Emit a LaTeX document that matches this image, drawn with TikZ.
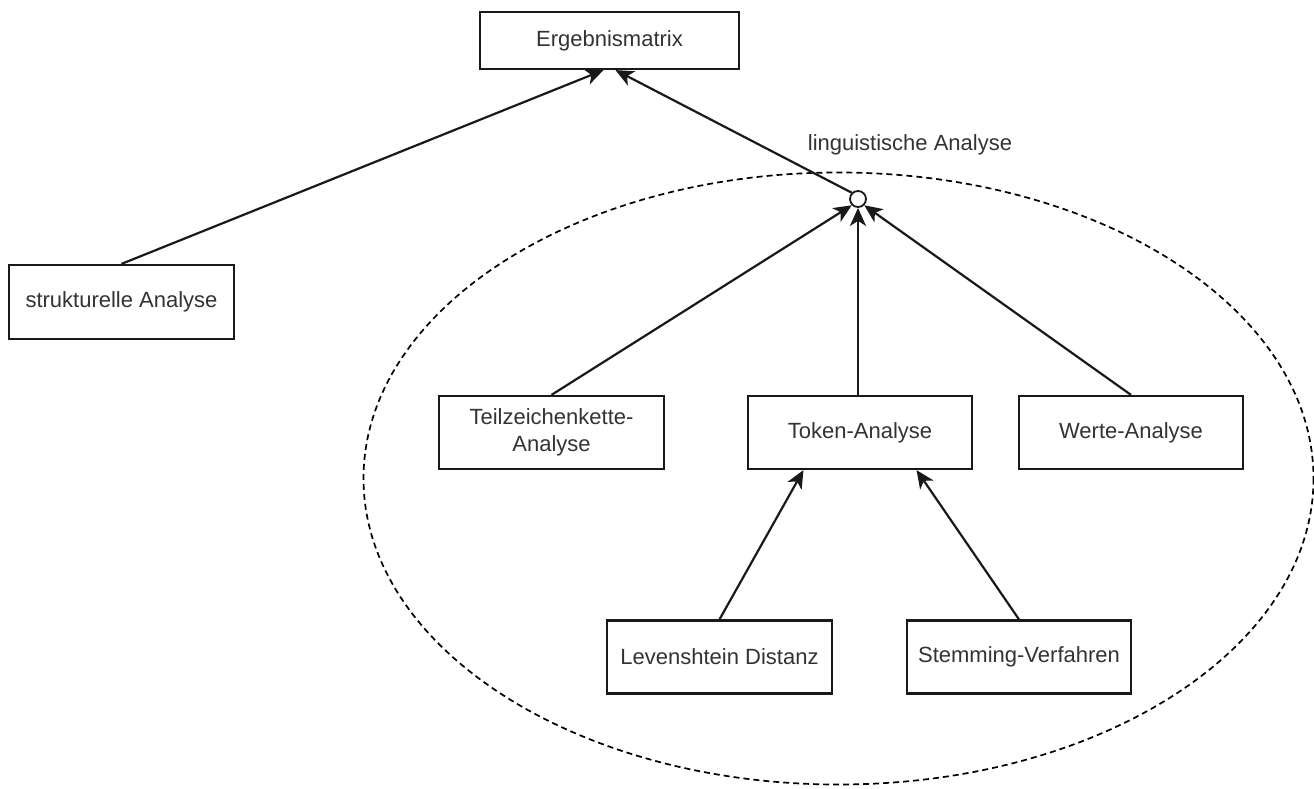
\documentclass[tikz,border=0pt]{standalone}
\usepackage{fontspec}
\setmainfont{Liberation Sans}
\usetikzlibrary{arrows.meta,calc}
\definecolor{txt}{HTML}{333333}
\begin{document}
\begin{tikzpicture}[x=1pt,y=-1pt,
  box/.style={draw=black!90,line width=2.2pt,fill=white,text=txt,font=\fontsize{22}{27}\selectfont,align=center,inner sep=0pt},
  conn/.style={line width=2.2pt,draw=black!90,-{Stealth[length=18pt,width=16pt,inset=5pt]}},
  lbl/.style={text=txt,font=\fontsize{22}{27}\selectfont,inner sep=0pt}]
\useasboundingbox (0,0) rectangle (1314,788);
\draw[line width=1.7pt,dash pattern=on 6pt off 4pt] (838.5,478.5) ellipse [x radius=475, y radius=306];
\node[box,minimum width=259,minimum height=57] (erg) at (609.5,40.5) {Ergebnismatrix};
\node[box,minimum width=225,minimum height=74] (str) at (121.5,302) {strukturelle Analyse};
\node[box,minimum width=225,minimum height=73] (teil) at (551.5,432.5) {Teilzeichenkette-\\Analyse};
\node[box,minimum width=224,minimum height=73] (tok) at (860,432.5) {Token-Analyse};
\node[box,minimum width=224,minimum height=73] (wert) at (1131,432.5) {Werte-Analyse};
\node[box,minimum width=225,minimum height=73] (lev) at (719.5,657) {Levenshtein Distanz};
\node[box,minimum width=224,minimum height=73] (stem) at (1019,657) {Stemming-Verfahren};
\node[draw=black!90,line width=1.8pt,fill=white,circle,minimum size=16pt,inner sep=0pt] (ling) at (858,199) {};
\node[lbl] (lingl) at (910,145) {linguistische Analyse};
\draw[conn] (str.north) -- ([xshift=-6pt]erg.south);
\draw[conn] (ling.north west) -- ([xshift=6pt]erg.south);
\draw[conn] (teil.north) -- (ling.south west);
\draw[conn] (tok.north -| ling.south) -- (ling.south);
\draw[conn] (wert.north) -- (ling.south east);
\draw[conn] (lev.north) -- ($(tok.south west)!0.25!(tok.south east)$);
\draw[conn] (stem.north) -- ($(tok.south west)!0.75!(tok.south east)$);
\end{tikzpicture}
\end{document}
